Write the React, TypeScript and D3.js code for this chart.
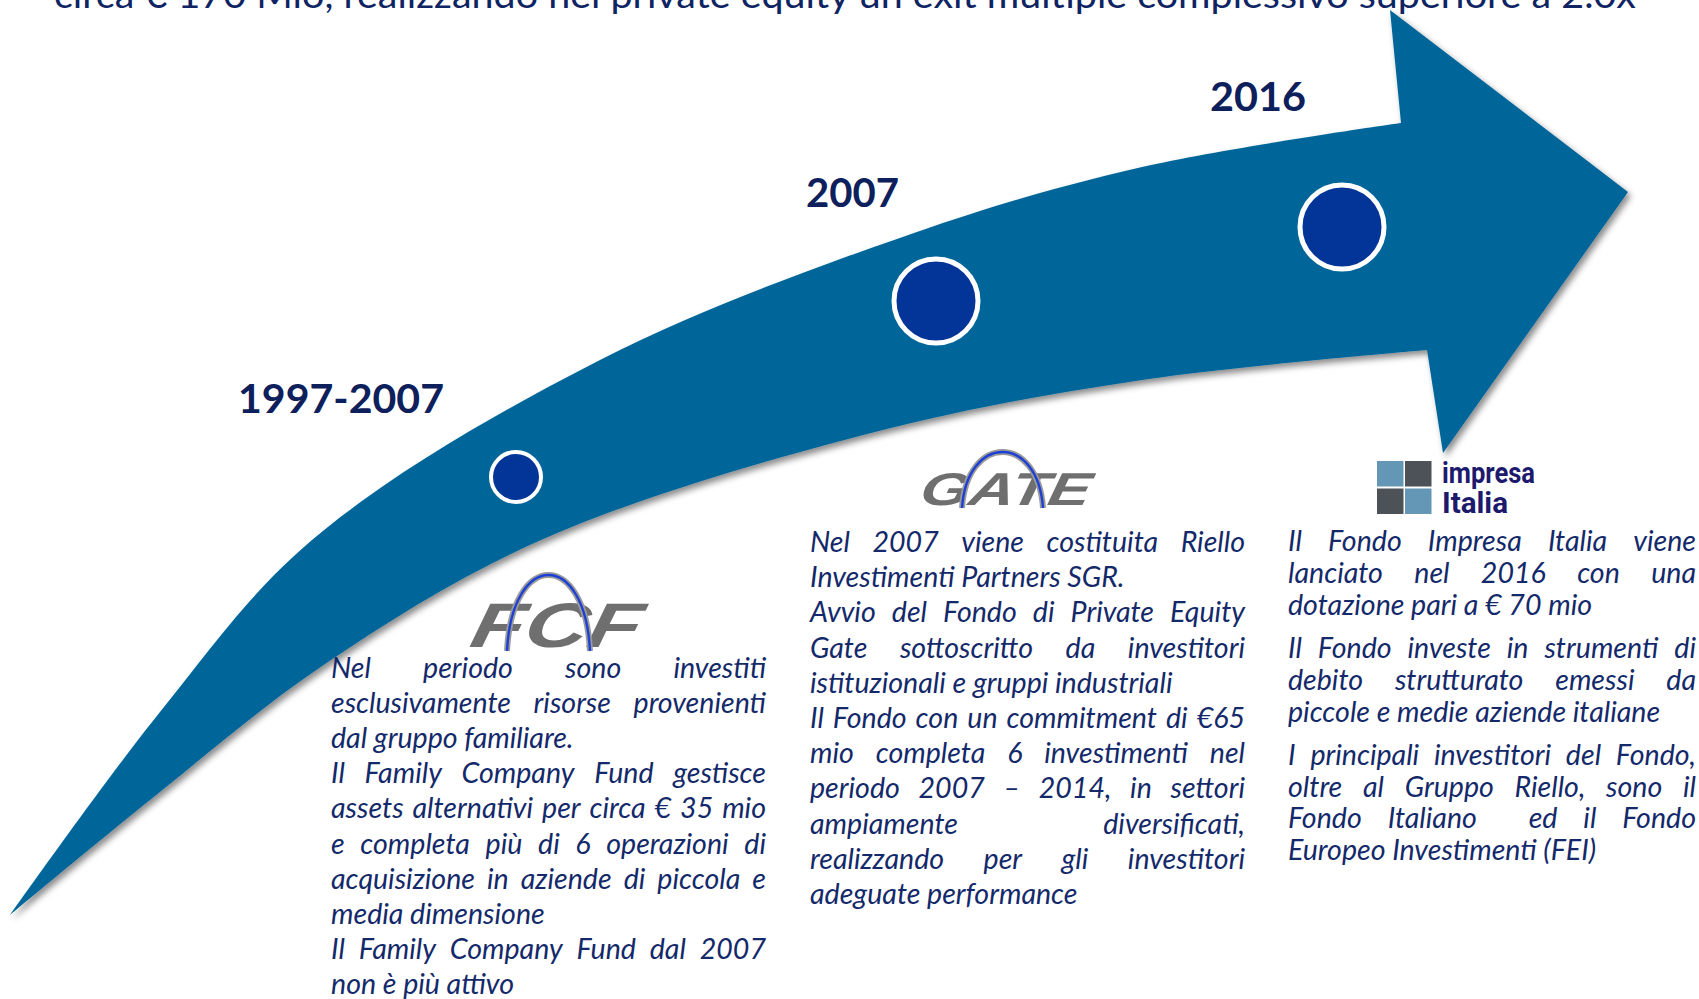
import React, { useMemo } from "react";
import * as d3 from "d3";

const W = 1699;
const H = 999;

const NAVY = "#13296a";
const YEAR = "#0d205c";
const ARROW = "#02669a";
const DOT = "#023597";
const BODY_FONT = "Lato";

const title =
  "circa € 170 Mio, realizzando nel private equity un exit multiple complessivo superiore a 2.0x";

const years = ["1997-2007", "2007", "2016"];

// each column: paragraphs -> lines (last line of a paragraph is not justified)
const col1 = [
  ["Nel periodo sono investiti", "esclusivamente risorse provenienti", "dal gruppo familiare."],
  [
    "Il Family Company Fund gestisce",
    "assets alternativi per circa € 35 mio",
    "e completa più di 6 operazioni di",
    "acquisizione in aziende di piccola e",
    "media dimensione",
  ],
  ["Il Family Company Fund dal 2007", "non è più attivo"],
];
const col2 = [
  ["Nel 2007 viene costituita Riello", "Investimenti Partners SGR."],
  ["Avvio del Fondo di Private Equity", "Gate sottoscritto da investitori", "istituzionali e gruppi industriali"],
  [
    "Il Fondo con un commitment di €65",
    "mio completa 6 investimenti nel",
    "periodo 2007 – 2014, in settori",
    "ampiamente diversificati,",
    "realizzando per gli investitori",
    "adeguate performance",
  ],
];
const col3 = [
  ["Il Fondo Impresa Italia viene", "lanciato nel 2016 con una", "dotazione pari a € 70 mio"],
  ["Il Fondo investe in strumenti di", "debito strutturato emessi da", "piccole e medie aziende italiane"],
  [
    "I principali investitori del Fondo,",
    "oltre al Gruppo Riello, sono il",
    "Fondo Italiano  ed il Fondo",
    "Europeo Investimenti (FEI)",
  ],
];
const columns = [col1, col2, col3];

// ---- layout (pixels) ----
const yearPos = [
  { x: 238, y: 413, w: 206 },
  { x: 806, y: 207, w: 93 },
  { x: 1210, y: 111, w: 96 },
];
const dotPos = [
  { cx: 516, cy: 477, r: 25, sw: 4 },
  { cx: 936, cy: 301, r: 42, sw: 5 },
  { cx: 1342, cy: 227, r: 42, sw: 5 },
];
// ref = [paragraph, line, measured width in the picture] used to size the font
const colBox = [
  { x0: 331, x1: 766, y0: 678, lh: 35.1, pg: 0, ref: [0, 2, 248] },
  { x0: 810, x1: 1245, y0: 552, lh: 35.2, pg: 0, ref: [0, 1, 312] },
  { x0: 1288, x1: 1696, y0: 551, lh: 31.8, pg: 11.5, ref: [0, 2, 300] },
];

const upperEdge: [number, number][] = [
  [10, 915], [160, 712], [312, 540], [600, 360], [914, 233], [1142, 167], [1401, 123],
];
const lowerEdge: [number, number][] = [
  [10, 915], [150, 800], [325, 664], [541, 540], [871, 433], [1142, 380], [1427, 350],
];
const head: [number, number][] = [[1390, 10], [1628, 192], [1443, 453]];

let ctx: CanvasRenderingContext2D | null = null;
function measure(text: string, font: string) {
  if (!ctx) ctx = document.createElement("canvas").getContext("2d");
  ctx!.font = font;
  return ctx!.measureText(text).width;
}

function arrowPath() {
  const line = d3.line().curve(d3.curveCatmullRom.alpha(0.5));
  const up = line(upperEdge) as string;
  const low = (line([...lowerEdge].reverse()) as string).replace(/^M/, "L");
  const h = head.map((p) => `L${p[0]},${p[1]}`).join("");
  return `${up}${h}${low}Z`;
}

function Column({ paras, box, size }: any) {
  const font = `italic 400 ${size}px ${BODY_FONT}`;
  const rows: any[] = [];
  let y = box.y0;
  paras.forEach((lines: string[], pi: number) => {
    if (pi > 0) y += box.pg;
    lines.forEach((ln, li) => {
      const last = li === lines.length - 1;
      if (last) {
        rows.push(
          <text key={`${pi}-${li}`} x={box.x0} y={y}>
            {ln}
          </text>
        );
      } else {
        const toks = ln.split(" ");
        const widths = toks.map((t) => (t ? measure(t, font) : 0));
        const gap = (box.x1 - box.x0 - d3.sum(widths)) / (toks.length - 1);
        let x = box.x0;
        const spans: any[] = [];
        toks.forEach((t, ti) => {
          if (t) spans.push(<tspan key={ti} x={x}>{t}</tspan>);
          x += widths[ti] + gap;
        });
        rows.push(
          <text key={`${pi}-${li}`} y={y}>
            {spans}
          </text>
        );
      }
      y += box.lh;
    });
  });
  return (
    <g fontFamily={BODY_FONT} fontStyle="italic" fontSize={size} fill={NAVY}>
      {rows}
    </g>
  );
}

function Arch({ x0, x1, yb, apex }: any) {
  const c = (apex - 0.25 * yb) / 0.75;
  const d = `M${x0},${yb} C${x0 + 5},${c} ${x1 - 5},${c} ${x1},${yb}`;
  return (
    <g fill="none">
      <path d={d} stroke="#9a9a9a" strokeWidth={6} />
      <path d={d} stroke="#1c3fd6" strokeWidth={2.4} />
    </g>
  );
}

function LogoWord({ x, y, size, w, children }: any) {
  return (
    <g transform={`translate(${x},${y}) skewX(-12)`}>
      <text
        x={0}
        y={0}
        fontFamily="Liberation Sans"
        fontWeight={700}
        fontStyle="italic"
        fontSize={size}
        fill="#6f6f6f"
        textLength={w}
        lengthAdjust="spacingAndGlyphs"
      >
        {children}
      </text>
    </g>
  );
}

export default function App() {
  const size = useMemo(() => {
    const fits = colBox.map((b, i) => {
      const [p, l, w] = b.ref;
      return (100 * w) / measure(columns[i][p][l], `italic 400 100px ${BODY_FONT}`);
    });
    return d3.mean(fits) as number;
  }, []);

  const d = useMemo(arrowPath, []);

  return (
    <svg
      width={W}
      height={H}
      viewBox={`0 0 ${W} ${H}`}
      style={{ position: "absolute", left: 0, top: 0, background: "#fff" }}
    >
      <defs>
        <filter id="sh" x="-5%" y="-5%" width="112%" height="115%">
          <feDropShadow dx="3" dy="4" stdDeviation="3" floodColor="#000" floodOpacity="0.45" />
        </filter>
      </defs>

      <text
        x={54}
        y={8}
        fontFamily={BODY_FONT}
        fontSize={37}
        fill="#0f2463"
        textLength={1582}
        lengthAdjust="spacingAndGlyphs"
      >
        {title}
      </text>

      <path d={d} fill={ARROW} filter="url(#sh)" />

      {dotPos.map((c, i) => (
        <circle key={i} cx={c.cx} cy={c.cy} r={c.r} fill={DOT} stroke="#fff" strokeWidth={c.sw} />
      ))}

      {years.map((t, i) => (
        <text
          key={t}
          x={yearPos[i].x}
          y={yearPos[i].y}
          fontFamily={BODY_FONT}
          fontWeight={700}
          fontSize={41}
          fill={YEAR}
          textLength={yearPos[i].w}
          lengthAdjust="spacingAndGlyphs"
        >
          {t}
        </text>
      ))}

      {/* FCF logo */}
      <g>
        <LogoWord x={468} y={647} size={63} w={170}>
          FCF
        </LogoWord>
        <Arch x0={507} x1={590} yb={651} apex={575} />
      </g>

      {/* GATE logo */}
      <g>
        <LogoWord x={918} y={505} size={46} w={170}>
          GATE
        </LogoWord>
        <Arch x0={962} x1={1043} yb={508} apex={452} />
      </g>

      {/* impresa Italia logo */}
      <g>
        <rect x={1377} y={461} width={26.5} height={25.5} fill="#6497b5" />
        <rect x={1405} y={461} width={26.5} height={25.5} fill="#4c5257" />
        <rect x={1377} y={488.5} width={26.5} height={25.5} fill="#4c5257" />
        <rect x={1405} y={488.5} width={26.5} height={25.5} fill="#6497b5" />
        <g fontFamily="Roboto" fontWeight={700} fontSize={30} fill="#1d1a6e">
          <text x={1442} y={483} textLength={93} lengthAdjust="spacingAndGlyphs">
            impresa
          </text>
          <text x={1442} y={513} textLength={66} lengthAdjust="spacingAndGlyphs">
            Italia
          </text>
        </g>
      </g>

      {columns.map((paras, i) => (
        <Column key={i} paras={paras} box={colBox[i]} size={size} />
      ))}
    </svg>
  );
}
